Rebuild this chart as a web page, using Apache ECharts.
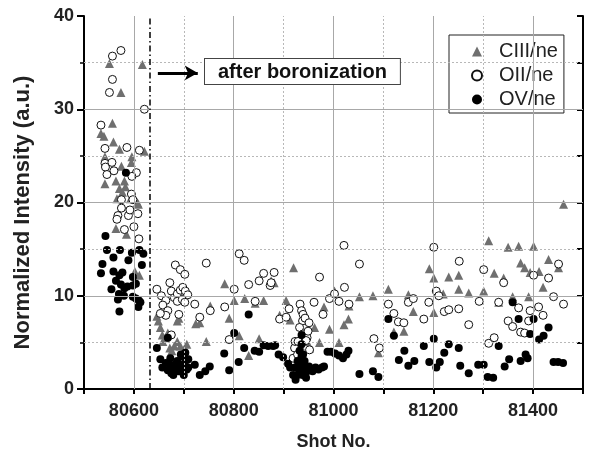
<!DOCTYPE html>
<html>
<head>
<meta charset="utf-8">
<script src="https://cdn.jsdelivr.net/npm/echarts@6/dist/echarts.min.js"></script>
<style>html,body{margin:0;padding:0;background:#fff;}#chart{width:590px;height:450px;}</style>
</head>
<body>
<div id="chart"></div>
<script>
// ---- data (shot number, normalized intensity) ----
const seriesNames = ['CIII/ne', 'OII/ne', 'OV/ne'];
const xTickLabels = [80600, 80800, 81000, 81200, 81400];
const xMinorGrid = [80700, 80900, 81100, 81300];
const yTickLabels = [0, 10, 20, 30, 40];
const yMajorGrid = [10, 20, 30];
const yMinorGrid = [5, 15, 25, 35];
const boronizationShot = 80632;

const ciii = [
  [80551,34.9],[80617,34.8],[80574,31.8],[80557,28.5],[80534,27.4],[80540,27.1],[80559,26.5],[80571,25.7],
  [80621,25.5],[80542,24.9],[80596,24.9],[80595,24.3],[80575,23.9],[80564,22.3],[80542,22.0],[80581,22.3],
  [80583,21.7],[80571,21.5],[80577,21.1],[80566,20.4],[80593,20.4],[80609,19.8],[80607,20.0],[80564,17.2],
  [80585,16.6],[80602,12.6],[80611,12.2],
  [80646,7.8],[80649,7.3],[80653,6.6],[80657,5.8],[80658,5.1],[80663,5.5],[80668,6.0],[80672,4.4],[80676,4.1],
  [80681,4.6],[80687,5.1],[80693,4.6],[80702,4.4],[80706,4.8],[80690,7.6],[80687,7.3],[80698,4.0],[80724,7.0],
  [80732,7.1],[80745,5.1],[80753,8.9],[80782,11.3],[80791,7.6],[80801,9.5],[80811,5.7],[80822,9.7],[80830,3.6],
  [80843,9.2],[80851,5.4],[80860,9.5],[80875,11.6],[80881,11.4],[80892,7.9],[80905,9.5],[80913,7.4],[80920,13.0],
  [80928,4.1],[80934,4.6],[80938,5.7],[80947,5.1],[80952,4.4],[80962,6.6],[80972,5.0],[80981,8.8],[80992,6.4],
  [81002,10.5],[81011,5.0],[81021,6.9],[81030,7.5],[81031,8.9],[81052,9.9],[81079,10.0],[81090,3.9],[81110,10.7],
  [81121,6.1],[81141,6.2],[81150,10.1],[81160,8.3],[81192,12.9],[81201,8.2],[81201,11.9],[81220,10.2],[81231,12.0],
  [81251,12.2],[81251,10.7],[81271,10.3],[81301,10.5],[81311,15.9],[81322,12.4],[81331,9.3],[81341,11.9],
  [81350,15.2],[81359,9.9],[81371,15.3],[81375,13.5],[81383,13.0],[81391,9.9],[81394,12.5],[81401,15.3],
  [81412,12.6],[81420,10.9],[81431,13.9],[81451,13.0],[81461,19.8]
];

const oii = [
  [80534,28.3],[80557,35.7],[80574,36.3],[80557,33.2],[80551,31.8],[80621,30.0],[80542,25.8],[80586,25.9],
  [80611,25.6],[80542,24.2],[80543,23.8],[80546,23.0],[80556,24.3],[80560,23.4],[80605,23.2],[80596,22.8],
  [80595,20.9],[80575,20.3],[80598,20.3],[80608,18.8],[80589,18.6],[80568,18.6],[80566,18.2],[80581,17.1],
  [80600,17.4],[80610,16.1],[80575,19.4],[80592,19.2],
  [80646,10.7],[80655,10.0],[80664,9.5],[80658,9.0],[80668,8.4],[80672,11.4],[80664,7.9],[80653,8.1],
  [80675,10.5],[80681,9.8],[80687,10.2],[80693,10.6],[80698,10.9],[80703,10.5],[80708,10.1],
  [80683,13.3],[80693,12.8],[80702,12.3],[80687,9.4],[80697,9.6],[80702,9.3],[80690,8.0],[80675,5.8],
  [80722,9.1],[80732,7.7],[80745,13.5],[80753,8.4],[80782,8.8],[80791,5.3],[80801,10.7],[80811,14.5],
  [80821,13.8],[80830,11.2],[80843,9.4],[80851,11.6],[80860,12.4],[80873,11.1],[80875,11.4],[80881,12.5],
  [80892,7.5],[80905,7.7],[80911,8.6],[80922,4.4],[80923,5.1],[80929,5.1],[80919,3.3],[80928,3.7],
  [80933,9.1],[80936,8.4],[80939,8.0],[80938,7.3],[80943,7.6],[80932,6.6],[80939,5.9],[80947,5.5],
  [80952,4.2],[80945,5.2],[80949,6.2],[80951,7.1],[80961,9.3],[80972,12.0],[80979,8.0],[80992,9.7],
  [81002,10.2],[81011,9.4],[81022,10.9],[81021,15.4],[81031,9.1],[81052,13.4],[81081,5.4],[81092,4.4],
  [81110,9.1],[81121,8.1],[81130,7.2],[81141,7.1],[81150,9.3],[81160,9.7],[81181,7.5],[81191,9.3],
  [81201,15.2],[81206,10.5],[81211,10.0],[81222,8.3],[81231,8.5],[81252,13.7],[81251,8.6],[81271,6.9],
  [81292,9.4],[81301,12.8],[81311,4.9],[81322,5.5],[81331,9.3],[81341,11.4],[81350,7.3],[81359,6.7],
  [81371,8.7],[81375,6.1],[81383,6.0],[81391,7.3],[81394,8.4],[81401,12.2],[81411,8.8],[81420,7.9],
  [81431,11.9],[81441,9.9],[81451,13.4],[81461,9.1]
];

const ov = [
  [80584,23.2],[80543,16.4],[80546,14.9],[80559,14.1],[80537,13.4],[80534,12.4],[80572,14.9],[80596,14.6],
  [80611,14.9],[80619,14.5],[80559,12.6],[80571,12.2],[80577,12.5],[80589,13.8],[80616,13.3],[80598,12.0],
  [80564,11.6],[80574,11.2],[80587,11.0],[80555,10.7],[80581,10.8],[80598,11.1],[80604,11.3],[80570,10.2],
  [80580,10.0],[80598,9.9],[80604,9.7],[80568,9.6],[80610,9.5],[80613,9.3],[80571,8.3],[80609,8.8],
  [80646,4.4],[80653,3.2],[80657,2.3],[80664,2.8],[80668,2.0],[80668,5.5],
  [80672,2.6],[80675,1.7],[80681,2.3],[80687,3.0],[80690,1.9],[80694,2.4],[80698,3.5],[80702,2.8],
  [80706,2.1],[80709,3.2],[80700,1.5],[80679,1.5],[80687,2.3],[80694,3.7],[80703,3.9],[80693,1.9],
  [80684,2.7],[80709,2.3],[80673,3.3],[80697,2.6],
  [80722,2.6],[80732,1.5],[80743,1.9],[80752,2.4],[80781,3.8],[80791,2.0],[80801,6.0],[80810,2.9],
  [80821,4.4],[80830,8.0],[80842,4.1],[80851,4.0],[80860,4.7],[80869,4.6],[80879,4.6],[80883,4.7],
  [80890,3.7],[80899,3.4],[80909,2.7],[80913,2.3],[80919,1.5],
  [80924,1.0],[80928,1.5],[80932,1.9],[80936,5.8],[80936,4.8],[80939,3.7],[80942,3.0],[80943,2.3],
  [80945,1.2],[80934,2.6],[80938,1.5],[80947,1.9],[80951,2.4],[80923,2.3],[80928,3.0],[80936,3.5],
  [80932,4.1],[80958,1.9],[80964,2.3],[80970,2.1],[80977,2.3],[80981,2.4],
  [80988,4.0],[80995,4.0],[81003,3.8],[81011,3.6],[81019,3.3],[81026,3.7],[81030,4.1],
  [81052,1.6],[81079,1.9],[81090,1.3],[81110,7.5],[81121,5.7],[81131,3.1],[81142,4.1],[81150,2.5],
  [81162,3.0],[81181,4.6],[81192,2.9],[81201,5.4],[81206,2.3],[81213,2.9],[81222,3.9],[81231,4.8],
  [81251,4.4],[81254,2.5],[81271,1.7],[81290,2.6],[81301,2.6],[81309,1.3],[81320,1.2],[81331,4.6],
  [81343,2.4],[81352,3.2],[81359,9.3],[81371,7.5],[81375,3.0],[81385,3.7],[81389,3.3],[81394,5.9],
  [81401,7.5],[81412,5.3],[81421,5.7],[81431,6.6],[81441,2.9],[81450,2.9],[81460,2.8]
];

// annotation arrow (data coordinates)
const arrowFrom = [80648, 33.9];
const arrowTo = [80728, 33.9];

// ---- chart ----
const FONT = 'Arial, "Liberation Sans", Helvetica, sans-serif';
const X_MIN = 80500, X_MAX = 81500, Y_MIN = 0, Y_MAX = 40;
const chart = echarts.init(document.getElementById('chart'), null, {renderer: 'canvas'});

const majorStyle = { color: '#a8a8a8', width: 1, type: 'solid' };
const minorStyle = { color: '#b8b8b8', width: 1, type: [2, 2] };
const gridLines = [];
xTickLabels.forEach(v => gridLines.push([{ coord: [v, Y_MIN], lineStyle: majorStyle }, { coord: [v, Y_MAX] }]));
xMinorGrid.forEach(v => gridLines.push([{ coord: [v, Y_MIN], lineStyle: minorStyle }, { coord: [v, Y_MAX] }]));
yMajorGrid.forEach(v => gridLines.push([{ coord: [X_MIN, v], lineStyle: majorStyle }, { coord: [X_MAX, v] }]));
yMinorGrid.forEach(v => gridLines.push([{ coord: [X_MIN, v], lineStyle: minorStyle }, { coord: [X_MAX, v] }]));

const xBase = { type: 'value', min: X_MIN, max: X_MAX, interval: 100 };
const yBase = { type: 'value', min: Y_MIN, max: Y_MAX, interval: 10 };

chart.setOption({
  animation: false,
  backgroundColor: '#fff',
  grid: { left: 84, right: 7, top: 16, bottom: 61, containLabel: false, outerBoundsMode: 'none' },
  xAxis: [
    Object.assign({}, xBase, {
      position: 'bottom',
      name: 'Shot No.', nameLocation: 'middle', nameGap: 44,
      nameTextStyle: { fontFamily: FONT, fontWeight: 'bold', fontSize: 18, color: '#222' },
      axisLine: { show: true, lineStyle: { color: '#000', width: 2 } },
      axisTick: { show: true, inside: false, length: 5, lineStyle: { color: '#000', width: 2 } },
      axisLabel: {
        fontFamily: FONT, fontWeight: 'bold', fontSize: 18, color: '#222', margin: 13,
        formatter: v => (xTickLabels.indexOf(v) >= 0 ? String(v) : '')
      },
      splitLine: { show: false }
    }),
    Object.assign({}, xBase, {
      position: 'top',
      axisLine: { show: true, lineStyle: { color: '#000', width: 2 } },
      axisTick: { show: true, inside: true, length: 5, lineStyle: { color: '#000', width: 2 } },
      axisLabel: { show: false },
      splitLine: { show: false }
    })
  ],
  yAxis: [
    Object.assign({}, yBase, {
      position: 'left',
      name: 'Normalized Intensity (a.u.)', nameLocation: 'middle', nameGap: 50, nameRotate: 90,
      nameTextStyle: { fontFamily: FONT, fontWeight: 'bold', fontSize: 22, color: '#222', padding: [0, 20, 0, 0] },
      axisLine: { show: true, lineStyle: { color: '#000', width: 2 } },
      axisTick: { show: true, inside: false, length: 7, lineStyle: { color: '#000', width: 2 } },
      minorTick: { show: true, splitNumber: 2, length: 4, lineStyle: { color: '#000', width: 1.5 } },
      axisLabel: { fontFamily: FONT, fontWeight: 'bold', fontSize: 18, color: '#222', margin: 10,
        formatter: v => (yTickLabels.indexOf(v) >= 0 ? String(v) : '') },
      splitLine: { show: false },
      minorSplitLine: { show: false }
    }),
    Object.assign({}, yBase, {
      position: 'right',
      axisLine: { show: true, lineStyle: { color: '#000', width: 2 } },
      axisTick: { show: true, inside: true, length: 6, lineStyle: { color: '#000', width: 2 } },
      minorTick: { show: true, splitNumber: 2, length: 6, lineStyle: { color: '#000', width: 2 } },
      axisLabel: { show: false },
      splitLine: { show: false }
    })
  ],
  legend: {
    orient: 'vertical',
    left: 449, top: 35,
    data: seriesNames,
    backgroundColor: '#fff',
    borderColor: '#222', borderWidth: 1, borderRadius: 0,
    padding: [6, 6, 3, 22],
    itemWidth: 10, itemHeight: 10, itemGap: 3,
    textStyle: { fontFamily: FONT, fontSize: 20, color: '#222', lineHeight: 21, padding: [0, 0, 0, 12] },
    selectedMode: false
  },
  graphic: [{
    type: 'text', left: 204, top: 58, z: 100,
    style: {
      text: 'after boronization',
      font: 'bold 20px ' + FONT,
      fill: '#111',
      backgroundColor: '#fff',
      borderColor: '#444', borderWidth: 1,
      padding: [3, 13, 2, 13]
    }
  }],
  series: [
    {
      name: 'grid', type: 'line', data: [], silent: true, z: 1,
      markLine: { silent: true, animation: false, symbol: 'none', label: { show: false }, data: gridLines }
    },
    {
      name: seriesNames[0], type: 'scatter', data: ciii, z: 2,
      symbol: 'triangle', symbolSize: 9,
      itemStyle: { color: '#6f6f6f', opacity: 1 }
    },
    {
      name: seriesNames[1], type: 'scatter', data: oii, z: 2,
      symbol: 'circle', symbolSize: 8,
      itemStyle: { color: '#fff', borderColor: '#111', borderWidth: 1, opacity: 1 }
    },
    {
      name: seriesNames[2], type: 'scatter', data: ov, z: 2,
      symbol: 'circle', symbolSize: 8,
      itemStyle: { color: '#000', opacity: 1 }
    },
    {
      name: 'annot', type: 'line', data: [], silent: true, z: 3,
      markLine: {
        silent: true, animation: false,
        label: { show: false },
        data: [
          [{ coord: [boronizationShot, Y_MIN], symbol: 'none' }, { coord: [boronizationShot, Y_MAX], symbol: 'none',
            lineStyle: { color: '#000', width: 1.5, type: [6, 3, 1.5, 3] } }],
          [{ coord: arrowFrom, symbol: 'none' }, { coord: arrowTo, symbol: 'arrow', symbolSize: [11, 13],
            lineStyle: { color: '#000', width: 3, type: 'solid' } }]
        ],
        lineStyle: { color: '#000', width: 1.5, type: [6, 3, 1.5, 3] }
      }
    }
  ]
});
</script>
</body>
</html>
